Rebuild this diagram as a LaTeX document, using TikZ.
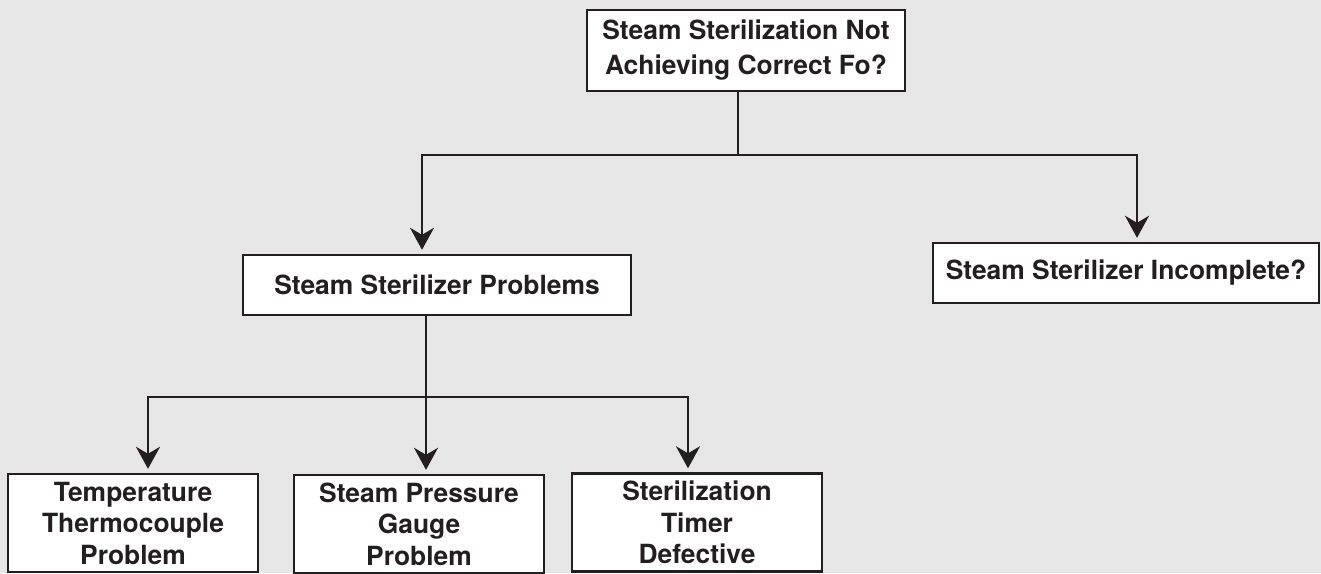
\documentclass[tikz,border=0pt]{standalone}
\usepackage{fontspec}
\setmainfont{TeX Gyre Heros}
\usetikzlibrary{arrows.meta}
\definecolor{bggray}{RGB}{230,230,230}
\definecolor{ink}{RGB}{35,31,32}

\begin{document}
\begin{tikzpicture}[x=0.5pt,y=-0.5pt,->,>={Stealth[length=11pt,width=12pt,inset=3.5pt]},
                    shorten >=2pt,line width=1.3pt,draw=ink,
                    box/.style={draw=ink,fill=white,line width=1.2pt,inner sep=0pt,align=center,
                                font=\bfseries\fontsize{13.2}{15.75}\selectfont,text=ink},
                    wide/.style={box,minimum height=30pt},
                    small/.style={box,minimum width=125pt,minimum height=49pt}]
                \fill[bggray] (0,0) rectangle (1321,573);
                \useasboundingbox (0,0) rectangle (1321,573);

                \node[box,minimum width=159pt,minimum height=40.5pt,
                      font=\bfseries\fontsize{13.2}{17.5}\selectfont] (fo) at (746,50.5)
                      {Steam Sterilization Not\\Achieving Correct Fo?};
                \node[wide,minimum width=194pt] (problems) at (437,285) {Steam Sterilizer Problems};
                \node[wide,minimum width=193pt] (incomplete) at (1126,273) {Steam Sterilizer Incomplete?};
                \node[small] (thermo) at (133,523) {Temperature\\Thermocouple\\Problem};
                \node[small] (gauge) at (419,524) {Steam Pressure\\Gauge\\Problem};
                \node[small] (timer) at (697,522.5) {Sterilization\\Timer\\Defective};

                \coordinate (split1) at (738,155);
                \coordinate (split2) at (426,397);

                \draw[-,shorten >=0pt] (fo.south -| split1) -- (split1);
                \draw (split1) -| ([xshift=-7.5pt]problems.north);
                \draw (split1) -| ([xshift=5.5pt]incomplete.north);
                \draw[-,shorten >=0pt] ([xshift=-5.5pt]problems.south) -- (split2);
                \draw (split2) -| ([xshift=7.5pt]thermo.north);
                \draw (split2) -- (split2 |- gauge.north);
                \draw (split2) -| ([xshift=-4.5pt]timer.north);
            \end{tikzpicture}
\end{document}
